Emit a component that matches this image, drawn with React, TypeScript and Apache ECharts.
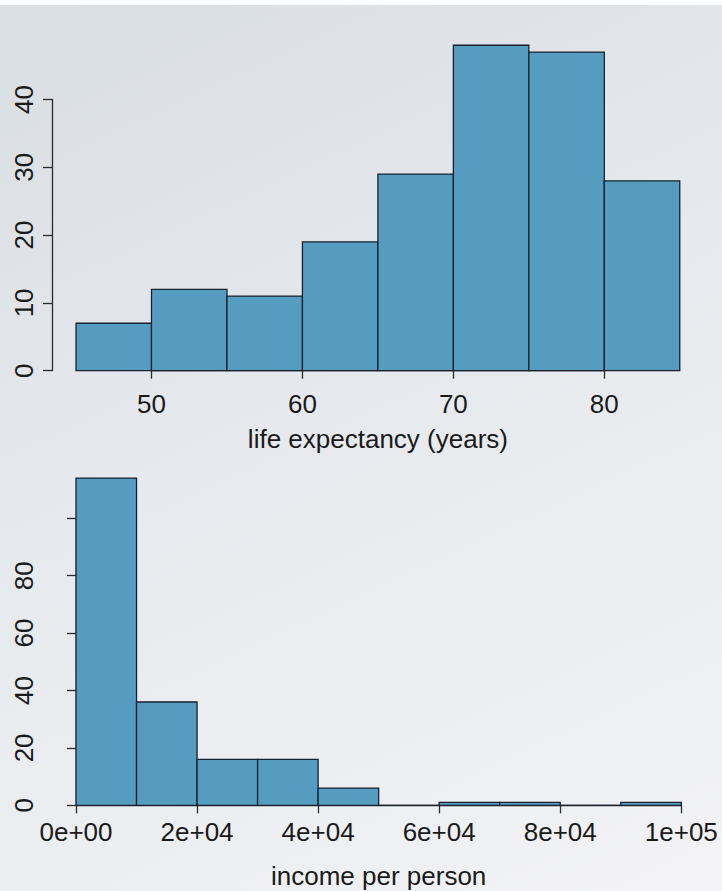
import React, { useEffect, useRef } from "react";
import * as echarts from "echarts";

// ---- Data ----
const lifeBreaks = [45, 50, 55, 60, 65, 70, 75, 80, 85];
const lifeCounts = [7, 12, 11, 19, 29, 48, 47, 28];
const lifeXTicks = [50, 60, 70, 80];
const lifeYTicks = [0, 10, 20, 30, 40];

const incomeBreaks = [0, 10000, 20000, 30000, 40000, 50000, 60000, 70000, 80000, 90000, 100000];
const incomeCounts = [114, 36, 16, 16, 6, 0, 1, 1, 0, 1];
const incomeXTickLabels = ["0e+00", "2e+04", "4e+04", "6e+04", "8e+04", "1e+05"];
const incomeYTicks = [0, 20, 40, 60, 80, 100];

const lifeTitle = "life expectancy (years)";
const incomeTitle = "income per person";

const FONT = "Liberation Sans, Arial, Helvetica, sans-serif";
const BAR_FILL = "#569cc1";
const BAR_STROKE = "#18212e";
const AXIS_COLOR = "#2a2a2a";

function toBins(breaks: number[], counts: number[]) {
  return counts.map((c, i) => [breaks[i], breaks[i + 1], c]);
}

const renderBin = (params: any, api: any) => {
  const x0 = api.value(0);
  const x1 = api.value(1);
  const c = api.value(2);
  const p0 = api.coord([x0, 0]);
  const p1 = api.coord([x1, c]);
  return {
    type: "rect",
    shape: { x: p0[0], y: p1[1], width: p1[0] - p0[0], height: p0[1] - p1[1] },
    style: { fill: BAR_FILL, stroke: BAR_STROKE, lineWidth: 1.3 },
  };
};

export default function App() {
  const ref = useRef<HTMLDivElement>(null);

  useEffect(() => {
    if (!ref.current) return;
    const chart = echarts.init(ref.current, null, { renderer: "svg" });

    const axisLine = { show: true, lineStyle: { color: AXIS_COLOR, width: 1.3 } };
    const labelStyle = { color: "#1a1a1a", fontSize: 26, fontFamily: FONT };

    chart.setOption({
      animation: false,
      backgroundColor: "transparent",
      grid: [
        { left: 151.5, right: 117.7, top: 99.5, bottom: 891 - 370.7 },
        { left: 76, right: 40.7, top: 518.3, bottom: 891 - 805.3 },
      ],
      xAxis: [
        {
          type: "value",
          gridIndex: 0,
          min: lifeXTicks[0],
          max: lifeXTicks[lifeXTicks.length - 1],
          interval: 10,
          offset: 13.3,
          axisLine,
          axisTick: { show: true, length: 8, lineStyle: { color: AXIS_COLOR, width: 1.3 } },
          axisLabel: { ...labelStyle, margin: 7 },
          splitLine: { show: false },
          name: lifeTitle,
          nameLocation: "middle",
          nameGap: 42,
          nameTextStyle: { ...labelStyle },
        },
        {
          type: "value",
          gridIndex: 1,
          min: incomeBreaks[0],
          max: incomeBreaks[incomeBreaks.length - 1],
          interval: 20000,
          offset: 13,
          axisLine,
          axisTick: { show: true, length: 8, lineStyle: { color: AXIS_COLOR, width: 1.3 } },
          axisLabel: {
            ...labelStyle,
            margin: 1,
            formatter: (v: number) => incomeXTickLabels[Math.round(v / 20000)] ?? "",
          },
          splitLine: { show: false },
          name: incomeTitle,
          nameLocation: "middle",
          nameGap: 45,
          nameTextStyle: { ...labelStyle },
        },
      ],
      yAxis: [
        {
          type: "value",
          gridIndex: 0,
          min: lifeYTicks[0],
          max: lifeYTicks[lifeYTicks.length - 1],
          interval: 10,
          offset: 151.5 - 52,
          axisLine,
          axisTick: { show: true, length: 9, lineStyle: { color: AXIS_COLOR, width: 1.3 } },
          axisLabel: { ...labelStyle, rotate: 90, margin: 15 },
          splitLine: { show: false },
        },
        {
          type: "value",
          gridIndex: 1,
          min: incomeYTicks[0],
          max: incomeYTicks[incomeYTicks.length - 1],
          interval: 20,
          offset: 76 - 52,
          axisLine,
          axisTick: { show: true, length: 9, lineStyle: { color: AXIS_COLOR, width: 1.3 } },
          axisLabel: {
            ...labelStyle,
            rotate: 90,
            margin: 15,
            formatter: (v: number) => (v === 100 ? "" : String(v)),
          },
          splitLine: { show: false },
        },
      ],
      series: [
        {
          type: "custom",
          xAxisIndex: 0,
          yAxisIndex: 0,
          clip: false,
          renderItem: renderBin,
          encode: { x: [0, 1], y: 2 },
          data: toBins(lifeBreaks, lifeCounts),
        },
        {
          type: "custom",
          xAxisIndex: 1,
          yAxisIndex: 1,
          clip: false,
          renderItem: renderBin,
          encode: { x: [0, 1], y: 2 },
          data: toBins(incomeBreaks, incomeCounts),
        },
      ],
    });

    return () => chart.dispose();
  }, []);

  return (
    <div
      style={{
        position: "fixed",
        left: 0,
        top: 0,
        width: 722,
        height: 891,
        background: "linear-gradient(155deg, #d9dee3 0%, #e6e9ed 45%, #f3f3f6 100%)",
      }}
    >
      <div style={{ position: "absolute", left: 0, top: 0, width: 722, height: 5, background: "#ffffff" }} />
      <div ref={ref} style={{ position: "absolute", left: 0, top: 0, width: 722, height: 891 }} />
    </div>
  );
}
